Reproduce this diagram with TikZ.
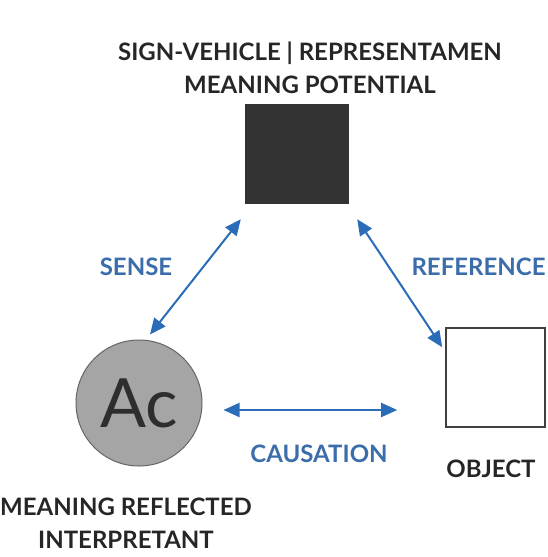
\documentclass[tikz,border=0pt]{standalone}
\usepackage{fontspec}
\setmainfont{Lato}
\usetikzlibrary{arrows.meta,positioning}
\definecolor{linkblue}{HTML}{2B6CB8}
\definecolor{labelblue}{HTML}{3A6DAA}
\definecolor{signgray}{HTML}{333333}
\definecolor{interpgray}{HTML}{A5A5A5}

\begin{document}
\begin{tikzpicture}
        [ x=1pt, y=-1pt,
          every node/.style = {font=\bfseries\fontsize{24}{33}\selectfont, text=black!85},
          sign node/.style = {fill=signgray, minimum width=104pt,
                              minimum height=100pt, inner sep=0pt},
          object node/.style = {draw=black!75, line width=1.6pt, fill=white,
                                minimum size=99pt, inner sep=0pt},
          interp node/.style = {circle, draw=black!60, line width=1pt,
                                fill=interpgray, minimum size=126pt, inner sep=0pt,
                                font=\fontsize{68}{68}\selectfont, text=black!82},
          link label/.style = {text=labelblue},
          link/.style = {draw=linkblue, line width=2pt, <->,
                         >={Triangle[length=16pt,width=14pt]}}]
        \useasboundingbox (0,0) rectangle (548,557);
        % the three corners
        \node[sign node] (sign) at (297,154) {};
        \node[object node] (object) at (495.5,377.5) {};
        \node[interp node] (interp) at (139,403) {Ac};
        % names of the corners
        \node[align=center] (sign-title) at (310,68) {SIGN-VEHICLE | REPRESENTAMEN\\MEANING POTENTIAL};
        \node (object-title) at (491,469) {OBJECT};
        \node[align=center] (interp-title) at (126,523) {MEANING REFLECTED\\INTERPRETANT};
        % ends of the connectors
        \coordinate (sense-a) at ([shift={(-4,15)}]sign.south west);
        \coordinate (sense-b) at ([shift={(11,-5)}]interp.north);
        \coordinate (ref-a) at ([shift={(8,15)}]sign.south east);
        \coordinate (ref-b) at ([shift={(-3,20)}]object.north west);
        \coordinate (cause-a) at ([shift={(21,7)}]interp.east);
        \coordinate (cause-b) at ([shift={(-48,32.5)}]object.west);
        \draw[link] (sense-b) -- (sense-a);
        \draw[link] (ref-a) -- (ref-b);
        \draw[link] (cause-a) -- (cause-b);
        \node[link label] (sense) at (136,267) {SENSE};
        \node[link label, anchor=west] (reference) at (408,267) {REFERENCE};
        \node[link label] (causation) at (319,454) {CAUSATION};
    \end{tikzpicture}
\end{document}
